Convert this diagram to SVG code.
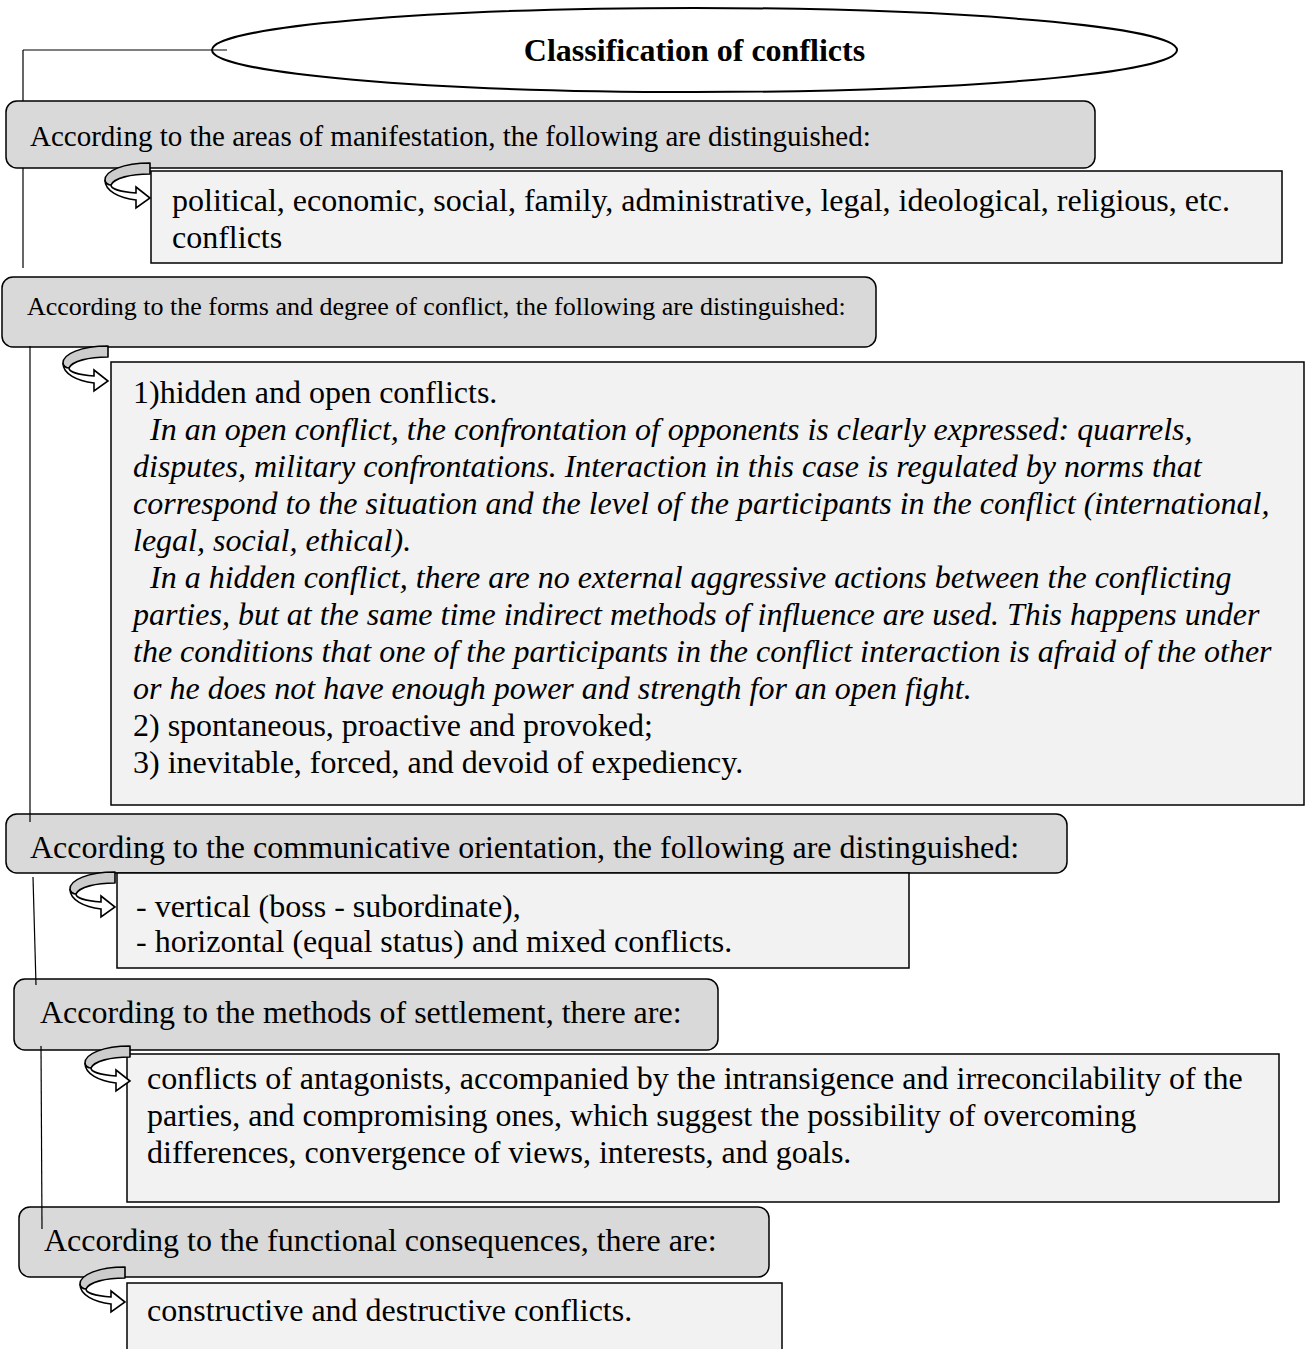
<svg xmlns="http://www.w3.org/2000/svg" width="1305" height="1349" viewBox="0 0 1305 1349">
<style>
.hdr{fill:#d9d9d9;stroke:#000;stroke-width:1.5}
.box{fill:#f2f2f2;stroke:#000;stroke-width:1.5}
.t{font-family:"Liberation Serif","Times New Roman",serif;font-size:32px;fill:#000}
.i{font-style:italic}
.con{stroke:#000;stroke-width:1.2;fill:none}
.back{fill:#cccccc;stroke:#000;stroke-width:1.6;stroke-linejoin:round}
.front{fill:#fff;stroke:#000;stroke-width:1.6;stroke-linejoin:miter}
</style>
<defs>
<g id="curl">
<path class="back" d="M45,1 C18,1 0,9 0,18 C0,21 3,23 6,23 C9,16 26,12 45,12 Z"/>
<path class="front" d="M0,18 C0,29 14,36 31,38 L31,46 L45,36 L31,25 L31,31 C16,30 6,27 6,23 C3,23 0,21 0,18 Z"/>
</g>
<clipPath id="clip3"><rect x="0" y="800" width="1100" height="66"/></clipPath>
</defs>
<rect width="1305" height="1349" fill="#fff"/>

<g id="title">
<ellipse cx="694.5" cy="50" rx="482.5" ry="42" fill="#fff" stroke="#000" stroke-width="2"/>
<text class="t" x="694.5" y="61" text-anchor="middle" font-weight="bold">Classification of conflicts</text>
</g>

<g id="h1">
<rect class="hdr" x="6" y="101" width="1089" height="67" rx="11"/>
<text class="t" x="30" y="146" style="font-size:29px">According to the areas of manifestation, the following are distinguished:</text>
</g>
<g id="c1">
<rect class="box" x="151" y="171" width="1131" height="92"/>
<text class="t" x="172" y="211">political, economic, social, family, administrative, legal, ideological, religious, etc.</text>
<text class="t" x="172" y="248">conflicts</text>
<use href="#curl" x="105" y="162"/>
</g>

<g id="h2">
<rect class="hdr" x="2" y="277" width="874" height="70" rx="11"/>
<text class="t" x="27" y="315" style="font-size:26px">According to the forms and degree of conflict, the following are distinguished:</text>
</g>
<g id="c2">
<rect class="box" x="111" y="362" width="1193" height="443"/>
<text class="t" x="133" y="403">1)hidden and open conflicts.</text>
<text class="t i" x="150" y="440">In an open conflict, the confrontation of opponents is clearly expressed: quarrels,</text>
<text class="t i" x="133" y="477">disputes, military confrontations. Interaction in this case is regulated by norms that</text>
<text class="t i" x="133" y="514">correspond to the situation and the level of the participants in the conflict (international,</text>
<text class="t i" x="133" y="551">legal, social, ethical).</text>
<text class="t i" x="150" y="588">In a hidden conflict, there are no external aggressive actions between the conflicting</text>
<text class="t i" x="133" y="625">parties, but at the same time indirect methods of influence are used. This happens under</text>
<text class="t i" x="133" y="662">the conditions that one of the participants in the conflict interaction is afraid of the other</text>
<text class="t i" x="133" y="699">or he does not have enough power and strength for an open fight.</text>
<text class="t" x="133" y="736">2) spontaneous, proactive and provoked;</text>
<text class="t" x="133" y="773">3) inevitable, forced, and devoid of expediency.</text>
<use href="#curl" x="63" y="345"/>
</g>

<g id="h3">
<rect class="hdr" x="6" y="814" width="1061" height="59" rx="11"/>
<text class="t" x="30" y="858" clip-path="url(#clip3)">According to the communicative orientation, the following are distinguished:</text>
</g>
<g id="c3">
<rect class="box" x="117" y="873" width="792" height="95"/>
<text class="t" x="136" y="917">- vertical (boss - subordinate),</text>
<text class="t" x="136" y="952">- horizontal (equal status) and mixed conflicts.</text>
<use href="#curl" x="70" y="871"/>
</g>

<g id="h4">
<rect class="hdr" x="14" y="979" width="704" height="71" rx="11"/>
<text class="t" x="40" y="1023">According to the methods of settlement, there are:</text>
</g>
<g id="c4">
<rect class="box" x="127" y="1054" width="1152" height="148"/>
<text class="t" x="147" y="1089">conflicts of antagonists, accompanied by the intransigence and irreconcilability of the</text>
<text class="t" x="147" y="1126">parties, and compromising ones, which suggest the possibility of overcoming</text>
<text class="t" x="147" y="1163">differences, convergence of views, interests, and goals.</text>
<use href="#curl" x="85" y="1045"/>
</g>

<g id="h5">
<rect class="hdr" x="19" y="1207" width="750" height="70" rx="11"/>
<text class="t" x="44" y="1251">According to the functional consequences, there are:</text>
</g>
<g id="c5">
<rect class="box" x="127" y="1283" width="655" height="90"/>
<text class="t" x="147" y="1321">constructive and destructive conflicts.</text>
<use href="#curl" x="80" y="1266"/>
</g>

<g id="connectors">
<path class="con" d="M23,50 H227 M23,50 V101 M23,168 V268"/>
<path class="con" d="M30,346 V822"/>
<path class="con" d="M33,877 L36,985"/>
<path class="con" d="M41,1046 L42,1229"/>
</g>
</svg>
